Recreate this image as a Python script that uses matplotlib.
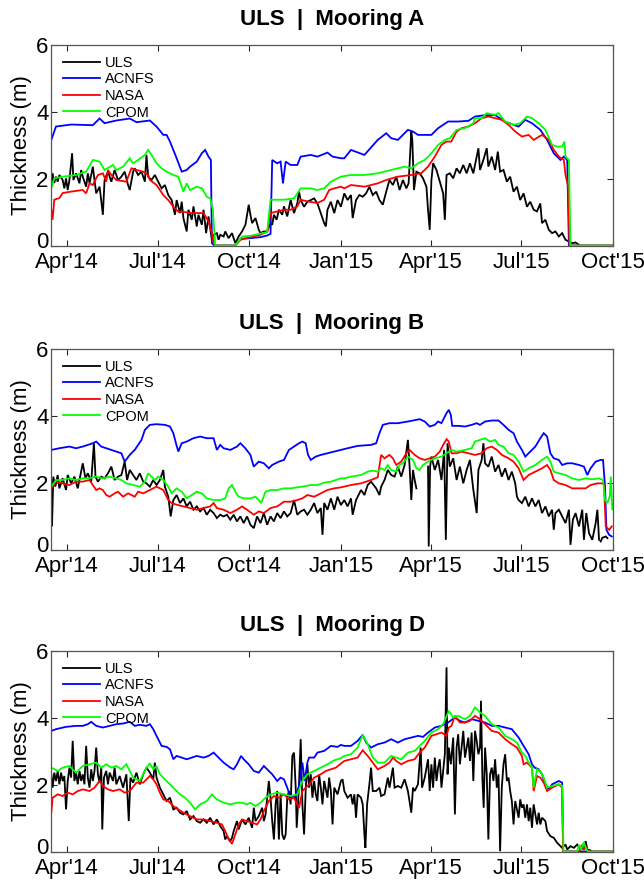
import numpy as np
import matplotlib
matplotlib.use("Agg")
import matplotlib.pyplot as plt
import matplotlib.dates as mdates
import matplotlib.transforms as mtransforms
from datetime import datetime

plt.rcParams['font.family'] = ['Liberation Sans', 'DejaVu Sans']

# ---------------- data: (day offset from 2014-03-16, thickness m) ----------------
series_names = ["ULS", "ACNFS", "NASA", "CPOM"]
series_colors = ["#000000", "#0000ff", "#ff0000", "#00ff00"]
panel_titles = ["ULS  |  Mooring A", "ULS  |  Mooring B", "ULS  |  Mooring D"]
tick_dates = ["2014-04-01", "2014-07-01", "2014-10-01", "2015-01-01", "2015-04-01", "2015-07-01", "2015-10-01"]
tick_labels = ["Apr'14", "Jul'14", "Oct'14", "Jan'15", "Apr'15", "Jul'15", "Oct'15"]
y_ticks = [0, 2, 4, 6]

# ---- Mooring A ----
A_ULS = [(0,1.76),(1.3,2.16),(3,1.87),(4.7,2.06),(6.4,1.91),(8.1,2.11),(11.4,1.96),(13.1,1.71),(14.8,2.01),(16.5,1.66),
 (18.2,1.96),(20.9,2.76),(22.2,1.96),(24.9,2.16),(28.3,1.86),(30,2.26),(31.6,2.06),(35,1.76),(36.7,2.16),(38.4,1.86),
 (41.7,2.36),(45.1,1.56),(48.5,1.76),(51.8,0.92),(53.5,1.96),(56.9,2.21),(60.3,1.91),(63.6,2.26),(67,1.96),(70.4,2.06),
 (73.7,2.21),(77.1,1.81),(78.8,1.66),(82.2,2.21),(83.8,2.31),(87.2,2.11),(90.6,2.21),(94,1.91),(95.6,2.71),(97.3,2.06),
 (100.7,1.96),(104,2.11),(107.4,1.91),(110.8,1.71),(114.1,1.81),(117.5,1.51),(120.9,1.36),(124.2,0.92),(125.9,1.36),
 (129.3,0.97),(131,1.31),(132.7,0.82),(136,0.42),(137.7,1.07),(141.1,0.77),(142.8,1.17),(146.1,0.57),(147.8,0.92),
 (151.2,0.62),(152.9,1.07),(155.5,0.37),(157.9,0.87),(161.3,0.17),(163,0.32),(166.3,0.37),(168,0.17),(169.7,0.32),
 (173.1,0.27),(174.7,0.42),(178.1,0.22),(181.5,0.37),(184.8,0.07),(188.2,0.27),(191.6,0.42),(195,0.62),(198.3,1.22),
 (200,0.92),(201.7,0.67),(205.1,0.82),(208.4,0.47),(210.1,0.37),(213.5,0.42),(216.8,0.42),(220.2,0.67),(221.9,0.62),
 (223.6,0.92),(226.3,0.77),(228.6,1.07),(232,0.92),(233.7,1.17),(237,0.87),(240.4,1.36),(243.8,0.97),(247.1,1.26),
 (248.8,1.61),(250.5,1.36),(253.9,1.16),(257.2,1.31),(260.6,1.36),(264,1.41),(267.3,1.26),(270.7,0.97),(274.1,0.67),
 (275.8,0.57),(277.4,1.07),(280.8,1.31),(284.2,0.97),(287.5,1.36),(290.9,1.16),(294.3,1.56),(297.6,1.36),(301,1.51),
 (302.7,0.82),(306.1,1.36),(309.4,1.51),(312.8,1.46),(316.2,1.56),(319.5,1.76),(322.9,1.51),(326.3,1.61),(329.6,1.36),
 (333,1.22),(336.4,1.61),(339.7,1.96),(343.1,1.81),(346.5,2.06),(349.8,1.66),(353.2,1.96),(356.6,1.71),(358.9,1.86),
 (361.6,3.41),(362.6,3.16),(364.3,1.66),(366.7,2.21),(370,2.16),(373.4,2.01),(376.8,1.76),(378.4,1.07),(380.1,0.47),
 (381.8,1.96),(383.5,2.46),(386.9,2.26),(390.2,1.91),(393.6,1.56),(395.3,0.77),(397,2.11),(400.3,2.16),(403.7,2.01),
 (407.1,2.31),(410.4,2.16),(413.8,2.41),(417.2,2.16),(420.5,2.46),(423.9,2.16),(427.3,2.66),(429,2.91),(430.6,2.26),
 (434,2.56),(437.4,2.91),(439,2.36),(442.4,2.66),(445.8,2.26),(448.5,2.81),(450.8,2.21),(454.2,2.26),(457.6,1.91),
 (460.9,2.06),(464.3,1.61),(467.7,1.76),(471,1.36),(474.4,1.56),(477.8,1.16),(481.1,1.31),(484.5,1.07),(487.9,1.02),
 (491.2,1.26),(492.9,0.67),(496.3,0.77),(499.7,0.47),(503,0.37),(506.4,0.42),(509.8,0.27),(513.1,0.37),(516.5,0.17),
 (519.9,0.12),(523.2,0.07),(526.6,0.09),(530,0.02)]
A_ACNFS = [(0,3.16),(4.7,3.56),(20,3.62),(41.7,3.6),(48.5,3.8),(53.5,3.66),(65.3,3.74),(78.8,3.8),(85.5,3.69),(99,3.74),
 (105.7,3.56),(112.5,3.31),(115.8,3.31),(119.2,3.11),(125.9,2.61),(131,2.21),(136,2.26),(139.4,2.36),(146.1,2.51),
 (151.2,2.76),(154.5,2.86),(157.9,2.66),(160.3,2.56),(161.3,0.07),(163.6,0.0),(184.8,0.0),(190,0.2),(200,0.22),
 (210,0.25),(217,0.3),(220.2,0.35),(221.9,2.56),(226.9,2.46),(230.3,2.51),(232.7,1.86),(235.4,2.51),(240.4,2.41),
 (247.1,2.41),(250.5,2.66),(260.6,2.71),(267.3,2.66),(277.4,2.78),(282.5,2.66),(290.9,2.61),(294.3,2.61),(301,2.86),
 (314.5,2.71),(327.9,3.16),(336.4,3.36),(341.4,3.21),(348.1,3.16),(358.2,3.46),(363.3,3.41),(368.3,3.31),(373.4,3.31),
 (381.8,3.31),(388.5,3.51),(398.6,3.71),(408.7,3.71),(418.9,3.73),(425.6,3.86),(435.7,3.9),(445.8,3.9),(455.9,3.71),
 (464.3,3.61),(469.4,3.56),(476.1,3.76),(482.8,3.66),(491.2,3.46),(498,3.16),(504.7,2.76),(511.4,2.56),(514.8,2.66),
 (518.2,2.56),(519.9,0.0),(564,0.0)]
A_NASA = [(0,1.07),(1.3,0.77),(3,1.37),(8.1,1.42),(11.4,1.57),(21.5,1.62),(31.6,1.66),(35,1.56),(38.4,1.86),(41.7,1.81),
 (46.8,2.11),(51.8,2.16),(55.2,1.91),(56.9,2.26),(60.3,2.11),(65.3,1.96),(75.4,1.91),(80.5,2.31),(85.5,2.26),(92.3,2.21),
 (97.3,2.11),(99,1.96),(105.7,1.81),(112.5,1.51),(117.5,1.36),(122.6,1.16),(127.6,1.01),(132.7,1.01),(139.4,0.97),
 (146.1,0.97),(152.9,0.97),(157.9,0.72),(161.3,0.37),(163.6,0.0),(184.8,0.0),(190,0.17),(200,0.25),(210,0.32),
 (217,0.42),(220.2,0.97),(233.7,1.07),(240.4,1.07),(247.1,1.17),(250.5,1.37),(257.2,1.32),(267.3,1.27),(274.1,1.37),
 (279.1,1.66),(284.2,1.71),(290.9,1.76),(294.3,1.71),(301,1.81),(314.5,1.76),(327.9,1.86),(336.4,1.96),(348.1,2.06),
 (361.6,2.11),(371.5,2.16),(378.4,2.36),(385.2,2.66),(391.9,3.01),(396.8,3.11),(401.8,3.11),(407.1,3.41),(412.1,3.51),
 (418.9,3.56),(425.6,3.66),(432.3,3.81),(439,3.86),(445.8,3.81),(452.5,3.76),(459.3,3.61),(466,3.41),(472.7,3.26),
 (479.5,3.31),(484.5,3.16),(492.9,3.31),(499.7,3.16),(504.7,2.86),(509.8,2.66),(514.8,2.56),(516.5,2.11),(519.2,1.76),
 (520.5,0.0),(564,0.0)]
A_CPOM = [(0,1.71),(3,2.01),(11.4,2.06),(24.9,2.11),(35,2.21),(41.7,2.56),(48.5,2.51),(53.5,2.26),(62,2.41),(65.3,2.26),
 (72.1,2.36),(78.8,2.61),(82.2,2.46),(87.2,2.56),(94,2.71),(97.3,2.86),(100.7,2.71),(105.7,2.46),(110.8,2.31),
 (115.8,2.21),(122.6,2.11),(127.6,2.06),(132.7,1.61),(136,1.86),(139.4,1.66),(146.1,1.76),(151.2,1.71),(156.2,1.46),
 (159.6,1.41),(162.3,1.07),(164.6,0.0),(184.8,0.0),(191.6,0.27),(200,0.29),(216.8,0.4),(220.2,1.37),(233.7,1.37),
 (243.8,1.41),(250.5,1.71),(260.6,1.71),(267.3,1.66),(274.1,1.71),(280.8,1.91),(290.9,2.06),(301,2.11),(314.5,2.11),
 (327.9,2.16),(341.4,2.26),(354.9,2.36),(361.6,2.31),(368.3,2.46),(375.1,2.56),(381.8,2.76),(388.5,3.01),(395.3,3.16),
 (400.3,3.21),(407.1,3.46),(415.5,3.51),(423.9,3.66),(425.6,3.81),(432.3,3.81),(437.4,3.96),(445.8,3.91),(449.2,3.96),
 (455.9,3.71),(464.3,3.61),(471,3.66),(477.8,3.86),(482.8,3.81),(489.6,3.66),(496.3,3.46),(503,3.01),(508,2.96),
 (513.1,2.96),(515.5,3.11),(516.5,2.66),(519.9,2.56),(521.5,0.0),(564,0.0)]

# ---- Mooring B ----
B_ULS = [(0,2.08),(0.7,0.69),(2,2.18),(4,1.88),(6.4,2.23),(8.1,1.83),(11.4,2.13),(14.8,1.78),(16.5,2.23),(19.9,1.98),
 (23.2,2.18),(26.6,1.83),(30,2.33),(31.6,2.58),(34.3,2.13),(36.7,2.28),(40.1,2.03),(42.8,3.18),(44.4,2.18),(46.8,2.03),
 (50.2,2.18),(53.5,2.13),(56.9,2.28),(60.3,2.48),(63.6,2.08),(67,2.18),(70.4,2.23),(73.7,2.63),(76.1,2.08),(78.8,2.38),
 (82.2,2.23),(85.5,2.08),(88.9,2.28),(92.3,2.03),(95.6,1.98),(99,1.88),(102.4,2.08),(105.7,1.93),(109.1,2.08),
 (112.5,2.38),(114.1,1.88),(117.5,1.58),(119.9,0.99),(122.6,1.48),(125.9,1.63),(129.3,1.39),(132.7,1.53),(136,1.29),
 (139.4,1.43),(142.8,1.19),(146.1,1.29),(149.5,1.14),(152.9,1.24),(156.2,1.04),(159.6,1.19),(163,1.09),(166.3,0.94),
 (169.7,1.04),(173.1,0.99),(176.4,1.04),(179.8,0.89),(183.2,1.04),(186.5,0.84),(189.9,0.99),(193.3,0.79),(196.6,0.99),
 (200,0.74),(203.4,0.64),(206.7,0.99),(210.1,0.79),(213.5,1.09),(216.8,0.74),(220.2,0.99),(223.6,0.84),(226.9,1.09),
 (230.3,0.94),(233.7,1.14),(237,0.99),(240.4,1.09),(243.8,1.48),(247.1,1.04),(250.5,1.14),(253.9,1.19),(257.2,1.04),
 (260.6,1.19),(264,1.39),(267.3,1.09),(270.7,1.24),(272.4,0.44),(274.1,1.39),(277.4,1.19),(280.8,1.53),(284.2,1.19),
 (287.5,1.58),(290.9,1.33),(294.3,1.48),(297.6,1.29),(301,1.53),(302.7,1.04),(306.1,1.48),(309.4,1.68),(311.1,1.78),
 (314.5,1.63),(317.8,1.93),(321.2,2.03),(326.3,1.83),(329.6,1.63),(331.3,1.88),(334.7,2.08),(338,2.38),(341.4,2.23),
 (344.8,2.18),(348.1,2.48),(351.5,2.18),(354.9,2.53),(358.2,3.28),(359.9,2.48),(361.6,1.48),(363.3,2.38),(365,2.08),
 (366.7,1.83),(367.5,np.nan),(378.4,2.48),(379.1,0.09),(380.5,2.48),(381.8,2.78),(385.2,2.38),(388.5,2.68),(391.9,2.08),
 (394.6,2.98),(396.3,0.29),(398,3.18),(400.3,2.48),(403.7,2.73),(407.1,2.08),(410.4,2.48),(413.8,1.98),(417.2,2.38),
 (420.5,2.68),(423.9,1.79),(427.3,1.09),(429,2.38),(432.3,2.68),(434,3.18),(435.7,2.58),(439,2.48),(442.4,2.78),
 (445.8,2.33),(449.2,2.53),(452.5,2.18),(455.9,2.43),(459.3,2.08),(462.6,2.33),(466,1.98),(467.7,1.58),(469.4,1.48),
 (472.7,1.39),(476.1,1.58),(479.5,1.29),(482.8,1.53),(486.2,1.29),(489.6,1.48),(492.9,1.09),(496.3,1.29),(499.7,0.99),
 (503,1.19),(504.7,0.59),(506.4,1.09),(509.8,1.19),(513.1,0.99),(516.5,0.79),(519.9,1.19),(521.5,0.14),(523.9,0.89),
 (526.6,1.09),(530,0.69),(533.3,1.19),(535,0.29),(537.4,1.09),(540.1,0.49),(543.4,0.29),(546.8,0.79),(548.5,1.19),
 (550.2,0.29),(551,np.nan),(551.8,0.24),(553.5,0.35),(556.9,0.39),(558.6,0.34)]
B_ACNFS = [(0,2.98),(8.1,3.03),(18.2,3.08),(24.9,3.03),(31.6,3.08),(41.7,3.18),(45.1,3.23),(50.2,3.08),(55.2,3.03),
 (60.3,2.98),(65.3,2.93),(70.4,2.88),(73.7,2.63),(78.8,2.83),(83.8,2.98),(87.2,3.13),(90.6,3.28),(94,3.58),(99,3.73),
 (105.7,3.75),(114.1,3.73),(119.2,3.68),(122.6,3.48),(125.2,3.18),(127.6,2.93),(131,3.18),(136,3.23),(142.7,3.33),
 (149.5,3.38),(156.2,3.33),(163,3.33),(166.3,2.98),(169.7,3.13),(173.1,3.03),(179.8,2.98),(186.5,3.08),(189.9,3.18),
 (194.9,3.03),(200,2.83),(203.3,2.48),(208.4,2.63),(213.5,2.58),(218.5,2.43),(221.9,2.53),(228.6,2.63),(233.7,2.68),
 (238.7,2.98),(243.8,3.08),(248.8,3.18),(252.2,3.23),(255.5,3.18),(257.9,2.83),(260.6,2.68),(265.6,2.78),(270.7,2.83),
 (277.4,2.88),(284.1,2.93),(290.9,2.98),(297.6,3.03),(307.7,3.1),(321.2,3.13),(326.3,3.18),(329.6,3.48),(333,3.73),
 (339.7,3.78),(348.1,3.78),(358.2,3.83),(370,3.9),(375.1,3.83),(380.1,3.68),(385.2,3.73),(388.5,3.83),(391.9,3.78),
 (397,4.08),(399.3,4.18),(401.3,4.03),(402.7,3.7),(408.7,3.7),(415.5,3.68),(422.2,3.73),(427.3,3.78),(430.6,3.73),
 (435.7,3.83),(442.4,3.86),(449.2,3.86),(454.2,3.73),(459.3,3.58),(464.3,3.48),(467.7,3.23),(472.7,2.98),(476.1,2.78),
 (481.1,2.93),(486.2,3.08),(491.2,3.33),(494.6,3.48),(498,3.38),(501.3,2.88),(504.7,2.73),(509.8,2.68),(513.1,2.53),
 (518.2,2.58),(523.2,2.58),(530,2.53),(535,2.48),(538.4,2.23),(541.7,2.43),(546.8,2.63),(551.8,2.68),(554.2,2.68),
 (556.2,1.88),(557.6,0.59),(560.3,0.44),(563,0.39)]
B_NASA = [(0,1.83),(4.7,2.03),(11.4,1.98),(18.2,1.93),(24.9,2.03),(31.6,2.03),(38.4,2.08),(41.7,1.93),(45.1,1.78),
 (48.5,1.83),(51.8,1.78),(55.2,1.63),(58.6,1.58),(63.6,1.68),(67,1.73),(72.1,1.58),(77.1,1.68),(83.8,1.58),(87.2,1.73),
 (92.3,1.68),(99,1.78),(105.7,1.88),(112.5,1.78),(117.5,1.48),(120.9,1.39),(125.9,1.34),(132.7,1.29),(139.4,1.24),
 (146.1,1.19),(152.9,1.24),(159.6,1.29),(163,1.39),(166.3,1.24),(173.1,1.19),(179.8,1.09),(186.5,1.19),(191.6,1.29),
 (196.6,1.19),(203.4,1.04),(208.4,1.14),(213.5,1.09),(220.2,1.24),(226.9,1.29),(233.7,1.43),(240.4,1.43),(247.1,1.48),
 (252.2,1.53),(257.2,1.63),(264,1.58),(270.7,1.68),(277.4,1.78),(284.2,1.83),(290.9,1.86),(301,1.93),(311.1,1.98),
 (321.2,2.08),(327.9,2.16),(331.3,2.83),(334.7,2.73),(339.7,2.83),(343.1,2.73),(346.5,2.53),(351.5,2.63),(356.6,2.88),
 (359.9,2.98),(365,2.83),(370,2.73),(375.1,2.68),(380.1,2.73),(385.2,2.78),(390.2,2.93),(393.6,3.13),(397,3.3),
 (399.3,3.23),(402,2.88),(407.1,2.88),(412.1,2.93),(418.9,2.88),(425.6,2.83),(432.3,2.88),(437.4,3.03),(442.4,3.08),
 (447.5,2.98),(452.5,2.83),(459.3,2.73),(464.3,2.63),(469.4,2.43),(474.4,2.08),(479.5,2.23),(486.2,2.33),(492.9,2.43),
 (498,2.53),(501.3,2.38),(504.7,2.08),(509.8,1.98),(516.5,1.93),(523.2,1.83),(530,1.83),(536.7,1.83),(541.7,1.93),
 (548.5,1.98),(553.5,1.98),(555.2,1.93),(556.9,0.69),(560.3,0.59),(563,0.69)]
B_CPOM = [(0,1.88),(4.7,2.08),(11.4,2.08),(18.2,2.13),(24.9,2.08),(31.6,2.13),(38.4,2.13),(45.1,2.18),(51.8,2.13),
 (58.6,2.18),(65.3,2.13),(70.4,2.08),(75.4,1.98),(82.2,1.93),(88.9,1.88),(94,2.03),(97.3,2.28),(100.7,2.18),(104,2.08),
 (107.4,2.18),(112.5,2.08),(117.5,1.88),(120.9,1.68),(125.9,1.83),(131,1.73),(136,1.53),(141.1,1.63),(146.1,1.73),
 (151.2,1.68),(156.2,1.53),(163,1.48),(169.7,1.48),(174.7,1.53),(178.1,1.83),(181.5,1.93),(184.8,1.73),(188.2,1.58),
 (193.3,1.53),(200,1.53),(205.1,1.58),(208.4,1.48),(210.8,1.39),(215.2,1.73),(220.2,1.78),(226.9,1.78),(233.7,1.83),
 (240.4,1.83),(247.1,1.86),(253.9,1.89),(260.6,1.93),(267.3,1.93),(274.1,2.0),(280.8,2.03),(290.9,2.13),(294.3,2.13),
 (301,2.18),(311.1,2.23),(317.8,2.33),(322.9,2.36),(327.9,2.33),(331.3,2.43),(334.7,2.38),(338,2.53),(341.4,2.38),
 (346.5,2.33),(349.8,2.53),(353.2,2.58),(358.2,2.78),(363.3,2.68),(366.7,2.43),(370,2.38),(373.4,2.53),(378.4,2.63),
 (385.2,2.73),(391.9,2.78),(397,2.88),(402,2.98),(407.1,2.93),(415.5,2.98),(422.2,3.03),(425.6,3.23),(430.6,3.28),
 (435.7,3.33),(440.7,3.23),(445.8,3.28),(449.2,3.13),(454.2,3.08),(459.3,2.88),(464.3,2.83),(469.4,2.63),(474.4,2.33),
 (479.5,2.43),(486.2,2.53),(492.9,2.68),(498,2.78),(501.3,2.63),(504.7,2.33),(509.8,2.28),(516.5,2.23),(523.2,2.13),
 (530,2.08),(536.7,2.13),(543.4,2.1),(550.2,2.13),(554.2,2.08),(556.2,1.48),(558.6,1.39),(561,1.6),(562,2.18),
 (563.5,1.2)]

# ---- Mooring D ----
D_ULS = [(0,2.31),(1.3,1.91),(3,2.36),(4.7,2.11),(6.4,2.41),(8.1,2.01),(9.8,2.36),(11.4,2.11),(13.1,2.26),(14.8,1.26),
 (16.5,2.11),(18.2,2.51),(19.9,2.21),(21.5,3.31),(23.2,2.11),(24.9,2.36),(26.6,2.01),(28.3,2.41),(30,2.11),(31.6,2.31),
 (33.3,2.01),(35,3.16),(36.7,2.21),(38.4,1.91),(40.1,2.46),(41.7,2.11),(43.4,2.41),(45.1,3.11),(46.8,2.31),(48.5,2.06),
 (50.2,2.51),(51.2,0.66),(52.9,2.21),(55.2,2.41),(56.9,2.01),(58.6,2.36),(62,2.11),(63.6,2.51),(65.3,2.01),(68.7,2.26),
 (72.1,1.91),(75.4,2.31),(77.8,0.91),(79.5,2.21),(82.2,2.06),(85.5,2.36),(88.9,2.01),(92.3,2.31),(95.6,2.51),(99,2.36),
 (102.4,2.16),(104,2.66),(105.7,2.21),(109.1,1.91),(112.5,1.71),(115.8,1.51),(119.2,1.61),(122.6,1.26),(125.9,1.31),
 (129.3,1.16),(132.7,1.11),(136,1.21),(139.4,0.96),(142.8,1.06),(146.1,0.91),(149.5,0.86),(152.9,0.96),(156.2,0.86),
 (159.6,1.01),(163,0.81),(166.3,0.96),(169.7,0.76),(173.1,0.61),(174.7,0.36),(176.4,0.46),(179.8,0.31),(181.5,0.41),
 (183.2,0.61),(186.5,0.91),(188.2,0.66),(191.6,0.96),(195,0.81),(198.3,1.01),(201.7,0.71),(203.4,1.31),(205.1,0.91),
 (208.4,1.06),(211.8,1.31),(213.5,0.91),(215.2,1.11),(216.8,1.61),(218.5,2.11),(220.2,1.61),(221.9,0.91),(223.6,0.36),
 (225.3,1.41),(226.9,1.81),(228.6,0.36),(230.3,1.71),(232,0.51),(233.7,0.36),(235.4,0.51),(237,1.61),(238.7,1.81),
 (240.4,1.41),(242.1,2.86),(243.8,2.96),(245.5,1.91),(246.5,0.71),(247.8,1.41),(248.8,2.01),(250.5,3.36),(252.2,1.41),
 (253.9,0.51),(255.6,1.91),(257.2,2.61),(258.9,1.91),(260.6,2.31),(262.3,1.61),(264,2.11),(265.7,1.71),(267.3,1.51),
 (269,2.31),(270.7,1.91),(272.4,1.41),(274.1,2.11),(277.4,1.61),(279.1,2.21),(280.8,1.81),(282.5,0.81),(284.2,1.91),
 (287.5,1.71),(290.9,2.11),(292.6,2.16),(294.3,1.81),(297.6,1.61),(301,1.71),(302.7,1.41),(304.4,1.71),(306.1,1.01),
 (307.7,1.71),(311.1,1.61),(312.8,1.41),(314.5,0.51),(315.5,0.11),(317.2,1.41),(319.5,2.01),(321.2,2.51),(322.9,1.81),
 (326.3,1.81),(329.6,1.91),(331.3,1.66),(334.7,1.71),(338,2.21),(339.7,1.91),(343.1,2.51),(344.8,1.91),(348.1,1.96),
 (351.5,1.91),(354.9,2.16),(358.2,1.81),(361.6,1.16),(363.3,1.91),(365,1.81),(368.3,2.01),(371,3.11),(372.4,1.91),
 (375.1,2.21),(378.4,2.76),(380.1,1.81),(381.8,2.61),(383.5,1.91),(385.2,2.81),(386.9,2.11),(388.5,2.51),(390.2,2.76),
 (391.9,1.91),(393.6,2.41),(395.3,2.91),(397,5.51),(398,2.31),(399.3,3.11),(401.3,2.61),(403.7,3.41),(405.4,1.11),
 (407.1,3.11),(408.7,3.51),(410.4,2.61),(412.1,3.11),(413.8,3.61),(415.5,2.81),(417.2,3.11),(418.9,3.41),(420.5,2.71),
 (422.2,3.56),(423.9,2.11),(425.6,3.61),(427.3,3.31),(429,2.91),(430.6,3.11),(431.6,4.51),(433,2.21),(434.3,1.31),
 (435.7,3.11),(437.4,2.31),(439,0.36),(440.7,2.31),(442.4,2.51),(444.1,2.11),(445.8,2.76),(447.5,1.91),(449.2,2.31),
 (450.8,0.01),(452.5,1.91),(454.2,2.61),(455.9,2.91),(457.6,2.11),(459.3,2.21),(460.9,1.81),(462.6,1.51),(464.3,0.81),
 (466,1.51),(469.4,1.01),(471,1.56),(472.7,1.31),(474.4,1.41),(476.1,1.01),(477.8,1.41),(479.5,0.91),(481.1,1.31),
 (482.8,0.71),(484.5,1.41),(486.2,1.11),(487.9,0.81),(489.6,1.16),(491.2,0.81),(492.9,1.01),(496.3,0.91),(498,0.61),
 (501.3,0.46),(504.7,0.41),(508.1,0.26),(511.4,0.16),(513.1,0.11),(516.5,0.21),(518.2,0.06),(521.5,0.16),(524.9,0.11),
 (528.3,0.21),(531.6,0.06),(535,0.11),(536.7,0.31),(538.4,0.06),(541.7,0.03)]
D_ACNFS = [(0,3.61),(4.7,3.66),(14.8,3.73),(24.9,3.76),(31.6,3.76),(36.7,3.81),(40.1,3.88),(45.1,3.76),(51.8,3.71),
 (58.6,3.76),(65.3,3.81),(72.1,3.83),(78.8,3.88),(83.8,3.76),(88.9,3.79),(95.6,3.76),(99,3.81),(102.4,3.66),(105.7,3.46),
 (110.8,3.16),(115.8,3.13),(119.2,3.06),(122.6,2.76),(125.9,2.86),(131,2.81),(136,2.76),(141.1,2.81),(146.1,2.86),
 (152.9,2.81),(157.9,2.86),(163,2.96),(168,2.81),(173.1,2.66),(179.8,2.51),(183.2,2.46),(186.5,2.61),(190.6,2.86),
 (193.3,2.76),(198.3,2.61),(203.4,2.41),(208.4,2.36),(213.5,2.56),(216.8,2.46),(221.9,2.31),(226.9,2.11),(230.3,2.21),
 (233.7,2.16),(237,1.91),(240.4,1.61),(245.5,1.66),(248.8,1.96),(252.2,2.66),(254.5,2.11),(257.2,2.66),(258.9,2.81),
 (264,2.81),(267.3,2.96),(274.1,3.01),(280.8,3.16),(287.5,3.13),(290.9,3.19),(294.3,3.16),(301,3.16),(307.7,3.31),
 (312.8,3.49),(316.2,3.26),(321.2,3.11),(327.9,3.21),(334.7,3.26),(341.4,3.36),(348.1,3.26),(354.9,3.36),(361.6,3.41),
 (368.3,3.46),(373.4,3.43),(378.4,3.56),(385.2,3.71),(391.9,3.76),(398.6,3.86),(405.4,4.01),(410.4,3.91),(415.5,3.86),
 (422.2,3.96),(429,3.91),(435.7,3.86),(442.4,3.76),(449.2,3.76),(455.9,3.71),(462.6,3.66),(469.4,3.41),(474.4,3.16),
 (479.5,2.91),(482.8,2.61),(485.5,2.51),(489.6,2.46),(492.9,2.31),(496.3,2.01),(499.7,1.86),(503,2.01),(506.4,2.06),
 (509.8,2.11),(513.1,2.06),(514.1,0.0),(564,0.0)]
D_NASA = [(0,1.16),(1.3,1.61),(6.4,1.71),(11.4,1.66),(16.5,1.76),(21.5,1.71),(26.6,1.81),(31.6,1.86),(38.4,1.81),
 (43.4,1.91),(48.5,2.11),(51.8,1.96),(56.9,1.86),(62,1.81),(68.7,1.86),(73.7,1.76),(78.8,1.81),(85.5,2.06),(92.3,2.06),
 (99,2.26),(102.4,2.16),(105.7,2.01),(109.1,1.76),(112.5,1.56),(117.5,1.51),(122.6,1.36),(127.6,1.26),(132.7,1.16),
 (139.4,1.06),(146.1,0.96),(152.9,0.96),(159.6,0.91),(166.3,0.86),(171.4,0.81),(174.7,0.61),(178.1,0.36),(181.5,0.23),
 (184.8,0.51),(188.2,0.81),(191.6,0.96),(196.6,0.91),(201.7,0.86),(206.7,0.81),(210.1,0.96),(213.5,1.21),(218.5,1.51),
 (223.6,1.66),(228.6,1.61),(233.7,1.71),(238.7,1.56),(243.8,1.61),(248.8,1.3),(252.2,1.81),(255.6,1.91),(258.9,2.01),
 (264,2.21),(270.7,2.31),(275.8,2.41),(280.8,2.46),(285.9,2.51),(290.9,2.63),(294.3,2.71),(301,2.76),(307.7,2.81),
 (312.8,3.03),(317.8,2.86),(322.9,2.66),(327.9,2.46),(334.7,2.56),(339.7,2.66),(343.1,2.81),(346.5,2.71),(351.5,2.61),
 (358.2,2.71),(365,2.76),(370,2.96),(375.1,3.11),(381.8,3.46),(386.9,3.51),(391.9,3.56),(396.9,3.46),(399.3,3.71),
 (402,3.76),(405.4,4.06),(410.4,3.86),(415.5,3.86),(420.5,3.91),(425.6,4.06),(430.6,3.96),(435.7,3.81),(442.4,3.61),
 (449.2,3.56),(455.9,3.36),(462.6,3.21),(467.7,3.11),(472.7,2.86),(474.4,2.61),(477.8,2.66),(482.8,2.51),(484.5,1.81),
 (487.9,2.26),(491.2,2.21),(494.6,2.06),(498,1.81),(503,1.91),(509.8,2.01),(513.1,1.91),(514.1,0.0),(530,0.0),(533,0.2),
 (535,0.05),(537,0.15),(539,0.0),(564,0.0)]
D_CPOM = [(0,2.51),(6.4,2.41),(11.4,2.51),(18.2,2.56),(24.9,2.36),(31.6,2.56),(38.4,2.61),(45.1,2.66),(50.2,2.51),
 (55.2,2.61),(60.3,2.51),(65.3,2.56),(70.4,2.46),(75.4,2.61),(82.2,2.21),(88.9,2.11),(95.6,2.51),(99,2.63),(102.4,2.46),
 (105.7,2.56),(109.1,2.31),(114.1,2.16),(119.2,2.01),(124.2,1.86),(129.3,1.71),(134.3,1.61),(139.4,1.46),(144.4,1.26),
 (149.5,1.41),(156.2,1.51),(161.3,1.71),(166.3,1.56),(173.1,1.46),(179.8,1.41),(186.5,1.46),(191.6,1.46),(196.6,1.41),
 (200,1.46),(205.1,1.36),(210.1,1.46),(215.2,1.61),(220.2,1.71),(226.9,1.76),(233.7,1.71),(240.4,1.66),(247.1,1.71),
 (252.2,2.11),(257.2,2.31),(264,2.41),(270.7,2.51),(277.4,2.61),(284.2,2.73),(290.9,2.79),(294.3,2.86),(301,2.91),
 (307.7,3.11),(312.8,3.49),(317.8,3.21),(322.9,2.81),(327.9,2.66),(334.7,2.66),(341.4,2.86),(346.5,2.81),(351.5,2.76),
 (358.2,2.96),(365,3.01),(370,3.16),(375.1,3.31),(381.8,3.56),(388.5,3.66),(393.6,3.81),(399.3,4.21),(403.7,4.01),
 (408.7,4.06),(415.5,3.96),(420.5,4.06),(425.6,4.31),(430.6,4.16),(435.7,4.06),(442.4,3.81),(449.2,3.71),(455.9,3.46),
 (462.6,3.36),(467.7,3.26),(472.7,2.96),(476.1,2.86),(479.5,2.66),(482.8,2.51),(484.5,1.91),(487.9,2.46),(491.2,2.41),
 (494.6,2.21),(498,1.91),(503,1.96),(509.8,2.01),(513.1,1.96),(514.5,0.0),(528,0.0),(530,0.2),(532,0.05),(535,0.28),
 (537,0.1),(539,0.0),(564,0.0)]

panels = [[A_ULS, A_ACNFS, A_NASA, A_CPOM],
          [B_ULS, B_ACNFS, B_NASA, B_CPOM],
          [D_ULS, D_ACNFS, D_NASA, D_CPOM]]

# ---------------- plotting ----------------
W, H = 644, 882
fig = plt.figure(figsize=(W / 100, H / 100), dpi=100)
base = mdates.date2num(datetime(2014, 3, 16))
x_end = mdates.date2num(datetime(2015, 10, 1))
tick_pos = [mdates.date2num(datetime.strptime(d, "%Y-%m-%d")) for d in tick_dates]

ax_left, ax_right = 51.3, 612.8
ax_tops = [45.0, 349.0, 651.0]
ax_h = 200.5
axis_col = "#262626"
lift_zero = mtransforms.ScaledTranslation(0, 4.2 / 72, fig.dpi_scale_trans)

for k, (title, data) in enumerate(zip(panel_titles, panels)):
    top = ax_tops[k]
    ax = fig.add_axes([ax_left / W, 1 - (top + ax_h) / H, (ax_right - ax_left) / W, ax_h / H])
    for name, col, ser in zip(series_names, series_colors, data):
        arr = np.array(ser, dtype=float)
        ax.plot(base + arr[:, 0], arr[:, 1], color=col, lw=1.3, label=name, solid_joinstyle='miter')
    ax.set_xlim(base, x_end)
    ax.set_ylim(0, 6)
    ax.set_xticks(tick_pos)
    ax.set_xticklabels(tick_labels)
    ax.set_yticks(y_ticks)
    ax.set_yticklabels([str(v) for v in y_ticks])
    ax.tick_params(direction='in', length=4, width=0.8, top=True, right=True,
                   labelsize=16, colors=axis_col, labelcolor='black')
    ax.tick_params(axis='x', pad=5)
    ax.tick_params(axis='y', pad=2)
    zero_lbl = ax.get_yticklabels()[0]
    zero_lbl.set_transform(zero_lbl.get_transform() + lift_zero)
    for sp in ax.spines.values():
        sp.set_color("#555555")
        sp.set_linewidth(0.9)
    ax.set_ylabel("Thickness (m)", fontsize=16, labelpad=3)
    ax.text(0.5, 1 + 25 / ax_h, title, transform=ax.transAxes, ha='center', va='center',
            fontsize=16, fontweight='bold')
    ax.legend(loc='upper left', bbox_to_anchor=(0.02, 0.947), frameon=False, fontsize=10.5,
              handlelength=2.6, handletextpad=0.3, labelspacing=0.18, borderpad=0, borderaxespad=0)

fig.savefig("out.png", dpi=100)
